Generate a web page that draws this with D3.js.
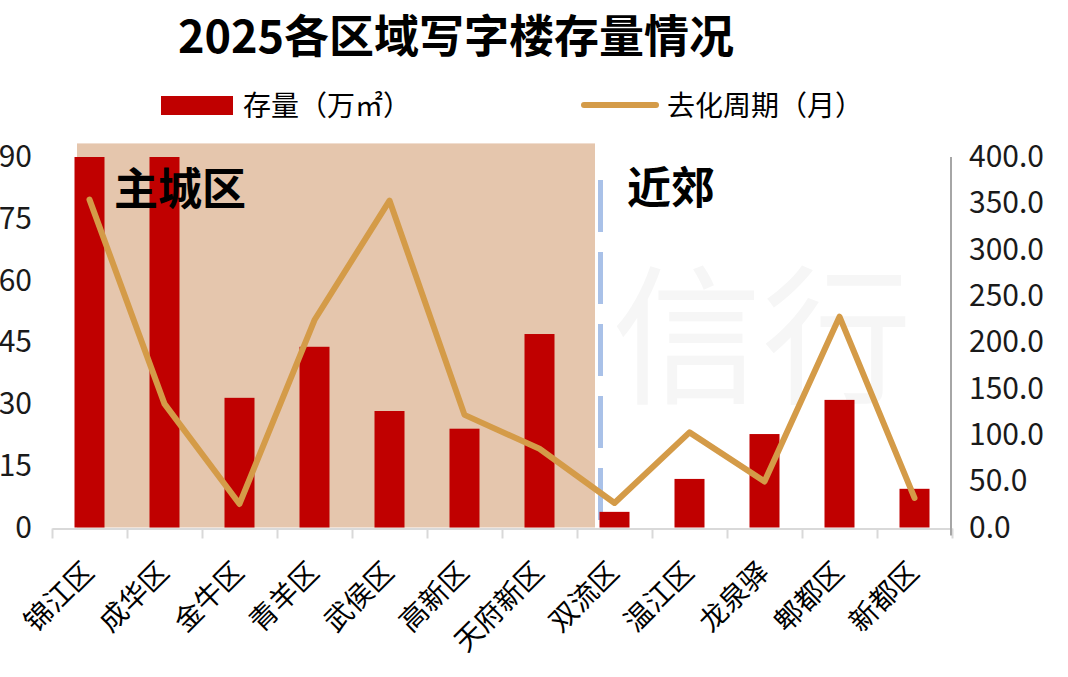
<html>
<head>
    <meta charset="utf-8">
    <script src="https://d3js.org/d3.v7.min.js"></script>
    <style>
        body { margin: 0; background: #fff; }
        text { font-family: "Noto Sans CJK SC", "Noto Sans", sans-serif; }
    </style>
</head>
<body>
    <svg id="chart" width="1068" height="677"></svg>
    <script>
        // data
        const districts = ["锦江区", "成华区", "金牛区", "青羊区", "武侯区", "高新区", "天府新区",
            "双流区", "温江区", "龙泉驿", "郫都区", "新都区"];
        const stock = [90, 90, 31.5, 43.9, 28.3, 24.0, 47.0, 3.8, 11.8, 22.7, 31.0, 9.4];      // 万㎡
        const cycle = [354, 133.5, 25.4, 224, 353, 121.6, 85, 26.5, 102.7, 49.7, 227.6, 32];   // 月
        const leftTicks = [0, 15, 30, 45, 60, 75, 90];
        const rightTicks = [0, 50, 100, 150, 200, 250, 300, 350, 400];
        const coreCount = 7; // 主城区 = first 7 districts

        const svg = d3.select("#chart");
        const plot = { left: 52, right: 952, top: 157, bottom: 527.5 };

        const x = d3.scaleBand().domain(districts).range([plot.left, plot.right])
            .paddingInner(0.6).paddingOuter(0.3);
        const cx = d => x(d) + x.bandwidth() / 2;
        const yL = d3.scaleLinear().domain([0, 90]).range([plot.bottom, plot.top]);
        const yR = d3.scaleLinear().domain([0, 400]).range([plot.bottom, plot.top]);

        // faint watermark
        svg.append("text")
            .attr("x", 612).attr("y", 392)
            .attr("font-size", 150)
            .attr("fill", "#f6f6f6")
            .text("信行");

        // 主城区 shading
        svg.append("rect")
            .attr("x", x(districts[0]) + 2.5)
            .attr("y", yL(93.3))
            .attr("width", x(districts[coreCount]) - 4.5 - (x(districts[0]) + 2.5))
            .attr("height", plot.bottom - yL(93.3))
            .attr("fill", "#E5C6AD");

        // divider
        svg.append("line")
            .attr("x1", x(districts[coreCount]) + 1).attr("x2", x(districts[coreCount]) + 1)
            .attr("y1", 180).attr("y2", 520)
            .attr("stroke", "#A9C1E8")
            .attr("stroke-width", 5)
            .attr("stroke-dasharray", "52,20");

        // x axis
        const xTick = d3.scaleLinear().domain([0, districts.length]).range([plot.left, plot.right]);
        const bottomAxis = d3.axisBottom(xTick).tickValues(d3.range(districts.length + 1))
            .tickSize(10).tickSizeOuter(0).tickFormat("");
        const gx = svg.append("g")
            .attr("transform", "translate(0," + (plot.bottom + 1) + ")")
            .call(bottomAxis);
        gx.selectAll("path, line").attr("stroke", "#d9d9d9").attr("stroke-width", 2);

        // bars
        svg.selectAll(".bar").data(districts).enter().append("rect")
            .attr("class", "bar")
            .attr("x", d => x(d))
            .attr("y", (d, i) => yL(stock[i]))
            .attr("width", x.bandwidth())
            .attr("height", (d, i) => plot.bottom - yL(stock[i]))
            .attr("fill", "#C00000");

        // line
        const line = d3.line().x((d, i) => cx(districts[i])).y(d => yR(d));
        svg.append("path")
            .datum(cycle)
            .attr("d", line)
            .attr("fill", "none")
            .attr("stroke", "#D49B48")
            .attr("stroke-width", 6)
            .attr("stroke-linejoin", "round")
            .attr("stroke-linecap", "round");

        // right axis
        const rightAxis = d3.axisRight(yR).tickValues(rightTicks).tickSize(0)
            .tickPadding(18).tickFormat(d3.format(".1f"));
        const gr = svg.append("g")
            .attr("transform", "translate(" + (plot.right - 1) + ",0)")
            .call(rightAxis);
        gr.select("path").attr("stroke", "#a6a6a6").attr("stroke-width", 2)
            .attr("d", "M0," + plot.top + "V" + (plot.bottom + 8));
        gr.selectAll("text").attr("font-size", 30).attr("fill", "#1a1a1a")
            .attr("font-family", "\"Open Sans\", \"Noto Sans\", sans-serif");

        // left axis labels (no line)
        const leftAxis = d3.axisLeft(yL).tickValues(leftTicks).tickSize(0).tickPadding(0);
        const gl = svg.append("g")
            .attr("transform", "translate(32,0)")
            .call(leftAxis);
        gl.select("path").remove();
        gl.selectAll("text").attr("font-size", 30).attr("fill", "#1a1a1a")
            .attr("font-family", "\"Open Sans\", \"Noto Sans\", sans-serif");

        // category labels
        svg.selectAll(".cat").data(districts).enter().append("text")
            .attr("class", "cat")
            .attr("text-anchor", "end")
            .attr("font-size", 28)
            .attr("fill", "#000")
            .attr("transform", d => "translate(" + (cx(d) + 6) + ",574) rotate(-45)")
            .text(d => d);

        // region labels
        svg.append("text")
            .attr("x", 114).attr("y", 205)
            .attr("font-size", 44).attr("font-weight", "bold")
            .text("主城区");
        svg.append("text")
            .attr("x", 627).attr("y", 204)
            .attr("font-size", 44).attr("font-weight", "bold")
            .text("近郊");

        // title
        svg.append("text")
            .attr("x", 456).attr("y", 53)
            .attr("text-anchor", "middle")
            .attr("font-size", 45).attr("font-weight", "bold")
            .text("2025各区域写字楼存量情况");

        // legend
        svg.append("rect")
            .attr("x", 161).attr("y", 96).attr("width", 72).attr("height", 19)
            .attr("fill", "#C00000");
        svg.append("text")
            .attr("x", 243).attr("y", 116)
            .attr("font-size", 28)
            .text("存量（万㎡）");
        svg.append("line")
            .attr("x1", 584).attr("x2", 656).attr("y1", 105).attr("y2", 105)
            .attr("stroke", "#D49B48").attr("stroke-width", 6).attr("stroke-linecap", "round");
        svg.append("text")
            .attr("x", 667).attr("y", 116)
            .attr("font-size", 28)
            .text("去化周期（月）");
    </script>
</body>
</html>
